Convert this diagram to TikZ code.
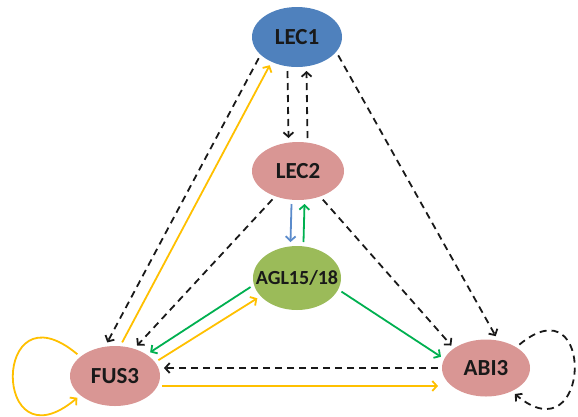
\documentclass[tikz,border=0pt]{standalone}
\usepackage{fontspec}
\setmainfont{Carlito}
\usepackage{tikz}
\usetikzlibrary{arrows,arrows.meta,shapes}
\definecolor{lecblue}{HTML}{4F81BD}
\definecolor{genepink}{HTML}{D99694}
\definecolor{aglgreen}{HTML}{9BBB59}
\definecolor{linkyellow}{HTML}{FFC000}
\definecolor{linkgreen}{HTML}{00B050}
\definecolor{linkblue}{HTML}{5B8BCB}

\begin{document}
\begin{tikzpicture}[x=1pt,y=-1pt,>={Straight Barb[length=4.5pt,width=10pt]},
  gene/.style={ellipse,inner sep=0pt,outer sep=4pt,minimum width=90pt,minimum height=60pt,
    text=black!90,font=\bfseries\fontsize{23}{25}\selectfont},
  reg/.style={->,line width=1.8pt},
  dreg/.style={reg,black!90,dash pattern=on 7pt off 5pt},
  yreg/.style={reg,linkyellow},
  greg/.style={reg,linkgreen},
  breg/.style={reg,linkblue}]
  \useasboundingbox (0,0) rectangle (578,416);
  \node[gene,fill=lecblue] (lec1) at (297,37) {LEC1};
  \node[gene,fill=genepink,minimum width=92pt,minimum height=58pt] (lec2) at (298,171) {LEC2};
  \node[gene,fill=aglgreen,minimum width=88pt,minimum height=64pt,inner xsep=-12pt,
    font=\bfseries\fontsize{20}{22}\selectfont] (agl) at (297,278) {AGL15/18};
  \node[gene,fill=genepink] (fus3) at (115,376) {FUS3};
  \node[gene,fill=genepink,minimum width=88pt,minimum height=57pt] (abi3) at (486,368) {ABI3};
  \draw[dreg] (lec1.209) -- (fus3.103);
  \draw[yreg] (fus3.78) -- (lec1.226);
  \draw[dreg] ([xshift=-9.5pt]lec1.south) -- ([xshift=-9.5pt]lec2.north);
  \draw[dreg] ([xshift=9.5pt]lec2.north) -- ([xshift=9.5pt]lec1.south);
  \draw[dreg] (lec1.-24) -- (abi3.73);
  \draw[dreg] (lec2.228) -- (fus3.54);
  \draw[dreg] (lec2.-49) -- (abi3.147);
  \draw[breg] ([xshift=-6.5pt]lec2.south) -- ([xshift=-6.5pt]agl.north);
  \draw[greg] ([xshift=6.5pt]agl.north) -- ([xshift=6.5pt]lec2.south);
  \draw[greg] (agl.191) -- (fus3.34);
  \draw[yreg] (fus3.20) -- (agl.207);
  \draw[greg] (agl.-17) -- (abi3.166);
  \draw[dreg] (abi3.west) -- (abi3.west -| fus3.east);
  \draw[yreg] (fus3.-12) -- (fus3.-12 -| abi3.west);
  \draw[yreg] (fus3.150) to[out=140,in=220,distance=112pt] (fus3.210);
  \draw[dreg] (abi3.35) to[out=40,in=-40,distance=100pt] (abi3.-42);
\end{tikzpicture}
\end{document}
